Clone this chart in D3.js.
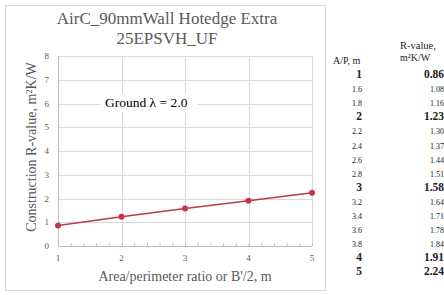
<!DOCTYPE html>
<html>
<head>
<meta charset="utf-8">
<script src="https://cdn.jsdelivr.net/npm/d3@7"></script>
<style>
  body { margin: 0; background: #fff; }
  svg { display: block; }
</style>
</head>
<body>
<script>
// chart data
let ratios = [1, 2, 3, 4, 5];
let rvalues = [0.86, 1.23, 1.58, 1.91, 2.24];
let yTicks = [0, 1, 2, 3, 4, 5, 6, 7, 8];
// table data
let tableAP = ["1", "1.6", "1.8", "2", "2.2", "2.4", "2.6", "2.8", "3", "3.2", "3.4", "3.6", "3.8", "4", "5"];
let tableR = ["0.86", "1.08", "1.16", "1.23", "1.30", "1.37", "1.44", "1.51", "1.58", "1.64", "1.71", "1.78", "1.84", "1.91", "2.24"];

let svgWidth = 444, svgHeight = 295;
let margin = {top: 56, left: 58};
let width = 254, height = 190;
let serif = "'Liberation Serif', 'DejaVu Serif', serif";
let grey = "#595959";

let svg = d3.select("body").append("svg")
  .attr("width", svgWidth).attr("height", svgHeight);

// chart frame
svg.append("rect")
  .attr("x", 5.5).attr("y", 5.5).attr("width", 320).attr("height", 285)
  .style("fill", "none").style("stroke", "#d9d9d9");

svg.append("text").attr("x", 167).attr("y", 24)
  .attr("text-anchor", "middle").style("font-family", serif)
  .style("font-size", "17px").style("fill", grey)
  .text("AirC_90mmWall Hotedge Extra");
svg.append("text").attr("x", 167).attr("y", 44)
  .attr("text-anchor", "middle").style("font-family", serif)
  .style("font-size", "17px").style("fill", grey)
  .text("25EPSVH_UF");

let canvas = svg.append("g")
  .attr("transform", "translate(" + margin.left + "," + margin.top + ")");

let xscale = d3.scaleLinear().domain([1, 5]).range([0, width]);
let yscale = d3.scaleLinear().domain([0, 8]).range([height, 0]);

// gridlines
canvas.append("g").selectAll("line").data(yTicks.slice(1)).enter().append("line")
  .attr("x1", 0).attr("x2", width)
  .attr("y1", d => Math.round(yscale(d)) + 0.5).attr("y2", d => Math.round(yscale(d)) + 0.5)
  .style("stroke", "#d9d9d9");
canvas.append("g").selectAll("line").data(ratios.slice(1)).enter().append("line")
  .attr("x1", d => Math.round(xscale(d)) + 0.5).attr("x2", d => Math.round(xscale(d)) + 0.5)
  .attr("y1", 0).attr("y2", height)
  .style("stroke", "#d9d9d9");

// axes (minor ticks every 0.2 on x)
let xAxis = d3.axisBottom(xscale).tickValues(d3.range(1, 5.01, 0.2)).tickSize(3).tickFormat("");
let gx = canvas.append("g").attr("transform", "translate(0," + height + ")").call(xAxis);
gx.select(".domain").remove();
gx.selectAll(".tick line").style("stroke", "#bfbfbf").attr("y1", -3).attr("y2", 0);
canvas.append("line").attr("x1", 0).attr("x2", width)
  .attr("y1", height + 0.5).attr("y2", height + 0.5).style("stroke", "#bfbfbf");
canvas.append("line").attr("x1", 0.5).attr("x2", 0.5)
  .attr("y1", 0).attr("y2", height).style("stroke", "#bfbfbf");

canvas.append("g").selectAll("text").data(ratios).enter().append("text")
  .attr("x", d => xscale(d)).attr("y", height + 15)
  .attr("text-anchor", "middle").style("font-family", serif)
  .style("font-size", "9px").style("fill", grey).text(d => d);
canvas.append("g").selectAll("text").data(yTicks).enter().append("text")
  .attr("x", -9).attr("y", d => yscale(d) + 3)
  .attr("text-anchor", "end").style("font-family", serif)
  .style("font-size", "9px").style("fill", grey).text(d => d);

canvas.append("text").attr("x", width / 2).attr("y", height + 35)
  .attr("text-anchor", "middle").style("font-family", serif)
  .style("font-size", "14px").style("fill", grey)
  .text("Area/perimeter ratio or B'/2, m");
canvas.append("text")
  .attr("transform", "translate(-22," + (height / 2 - 4) + ") rotate(-90)")
  .attr("text-anchor", "middle").style("font-family", serif)
  .style("font-size", "14px").style("fill", grey)
  .text("Construction R-value, m²K/W");

// label box
canvas.append("rect").attr("x", 42).attr("y", 38).attr("width", 98).attr("height", 18).style("fill", "#fff");
canvas.append("text").attr("x", 47).attr("y", 51)
  .style("font-family", serif).style("font-size", "13.5px").style("fill", "#000")
  .text("Ground λ = 2.0");

// line + markers
let pts = ratios.map((d, i) => [d, rvalues[i]]);
canvas.append("path").datum(pts)
  .attr("d", d3.line().x(d => xscale(d[0])).y(d => yscale(d[1])))
  .style("fill", "none").style("stroke", "#c0394b").style("stroke-width", 1.5);
canvas.selectAll("circle").data(pts).enter().append("circle")
  .attr("cx", d => xscale(d[0])).attr("cy", d => yscale(d[1])).attr("r", 3)
  .style("fill", "#c0394b");

// table on the right
let tbl = svg.append("g").style("font-family", serif).style("fill", "#222");
tbl.append("text").attr("x", 333).attr("y", 64).style("font-size", "10px").text("A/P, m");
tbl.append("text").attr("x", 400).attr("y", 49).style("font-size", "10.5px").text("R-value,");
tbl.append("text").attr("x", 400).attr("y", 61).style("font-size", "10px").text("m²K/W");
tableAP.forEach((v, i) => {
  let major = !v.includes(".");
  let y = 78 + i * 14.1;
  tbl.append("text").attr("x", 362).attr("y", y).attr("text-anchor", "end")
    .style("font-size", major ? "11.5px" : "8px").style("font-weight", major ? "bold" : "normal").text(v);
  tbl.append("text").attr("x", 444).attr("y", y).attr("text-anchor", "end")
    .style("font-size", major ? "11.5px" : "8px").style("font-weight", major ? "bold" : "normal").text(tableR[i]);
});
</script>
</body>
</html>
